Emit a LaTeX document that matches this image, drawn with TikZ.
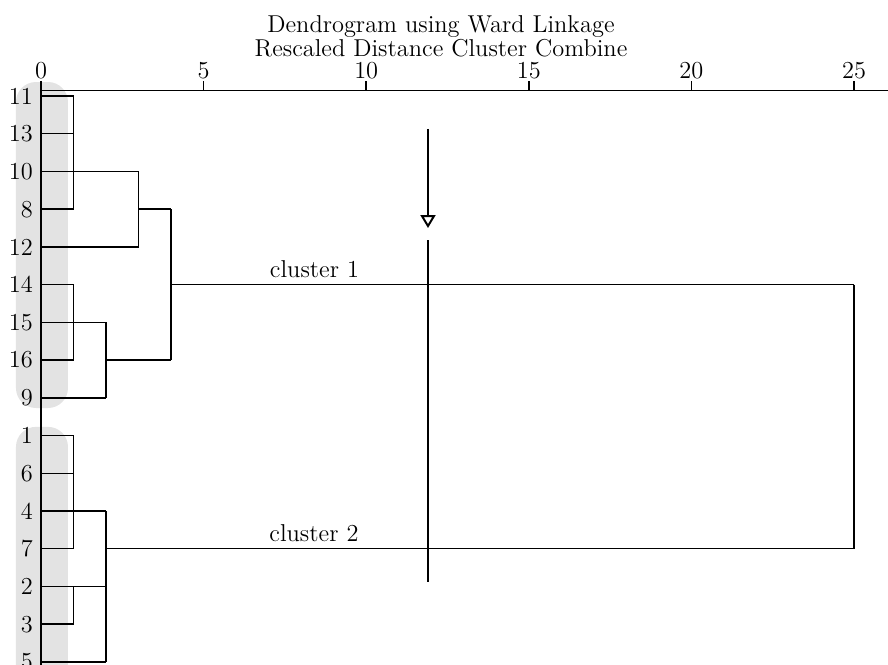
\documentclass[tikz,border=0pt]{standalone}
\usetikzlibrary{arrows.meta}
\begin{document}
\begin{tikzpicture}[x=16.26pt, y=-18.865pt, line width=0.75pt,
    every node/.style={font=\fontsize{12.2}{14}\selectfont, inner sep=1pt},
    leaflab/.style={anchor=east, inner sep=0pt},
    bar/.style={fill=black!11, draw=none, rounded corners=10pt}]
  \useasboundingbox (-1.261,-2.544) rectangle (26.045,15.08);
  % grey bands behind the two groups of leaves
  \fill[bar] (-0.77,-0.37) rectangle (0.83,8.27);
  \fill[bar] (-0.77,8.77) rectangle (0.83,15.8);
  % title
  \node (title1) at (12.3,-1.84) {Dendrogram using Ward Linkage};
  \node (title2) at (12.3,-1.26) {Rescaled Distance Cluster Combine};
  % axis on top
  \draw (0,-0.146) -- (26.1,-0.146);
  \draw (0,-0.4) -- (0,15.2);
  \foreach \x in {5,10,...,25} {
    \draw (\x,-0.146) -- (\x,-0.4);
  }
  \foreach \x in {0,5,10,...,25} {
    \node (tick\x) at (\x,-0.66) {\x};
  }
  % leaves (label/row)
  \foreach \lab/\r in {11/0, 13/1, 10/2, 8/3, 12/4, 14/5, 15/6, 16/7,
                      9/8, 1/9, 6/10, 4/11, 7/12, 2/13, 3/14, 5/15} {
    \coordinate (l\lab) at (0,\r);
    \node[leaflab] (lab\lab) at (-0.23,\r) {\lab};
  }
  % first steps of the tree
  \foreach \lab/\h in {11/1, 13/1, 10/3, 8/1, 12/3, 14/1, 15/2, 16/1,
                      9/2, 1/1, 6/1, 4/2, 7/1, 2/2, 3/1, 5/2} {
    \draw (l\lab) -- ++(\h,0);
  }
  % cluster 1
  \draw (1,0) -- (1,3);
  \draw (3,2) -- (3,4);
  \draw (3,3) -- (4,3);
  \draw (1,5) -- (1,7);
  \draw (2,6) -- (2,8);
  \draw (2,7) -- (4,7);
  \draw (4,3) -- (4,7);
  \draw (4,5) -- (25,5) node[pos=0.21, above=2pt] (c1) {cluster 1};
  % cluster 2
  \draw (1,9) -- (1,12);
  \draw (1,13) -- (1,14);
  \draw (2,11) -- (2,15);
  \draw (2,12) -- (25,12) node[pos=0.278, above=2pt] (c2) {cluster 2};
  \draw (25,5) -- (25,12);
  % cut
  \coordinate (cuttop) at (11.9,0.875);
  \coordinate (cuttip) at (11.9,3.5);
  \coordinate (cutstart) at (11.9,3.82);
  \coordinate (cutend) at (11.9,12.88);
  \draw[-{Triangle[open, width=7.5pt, length=6.5pt, line width=1pt]}] (cuttop) -- (cuttip);
  \draw (cutstart) -- (cutend);
\end{tikzpicture}
\end{document}
